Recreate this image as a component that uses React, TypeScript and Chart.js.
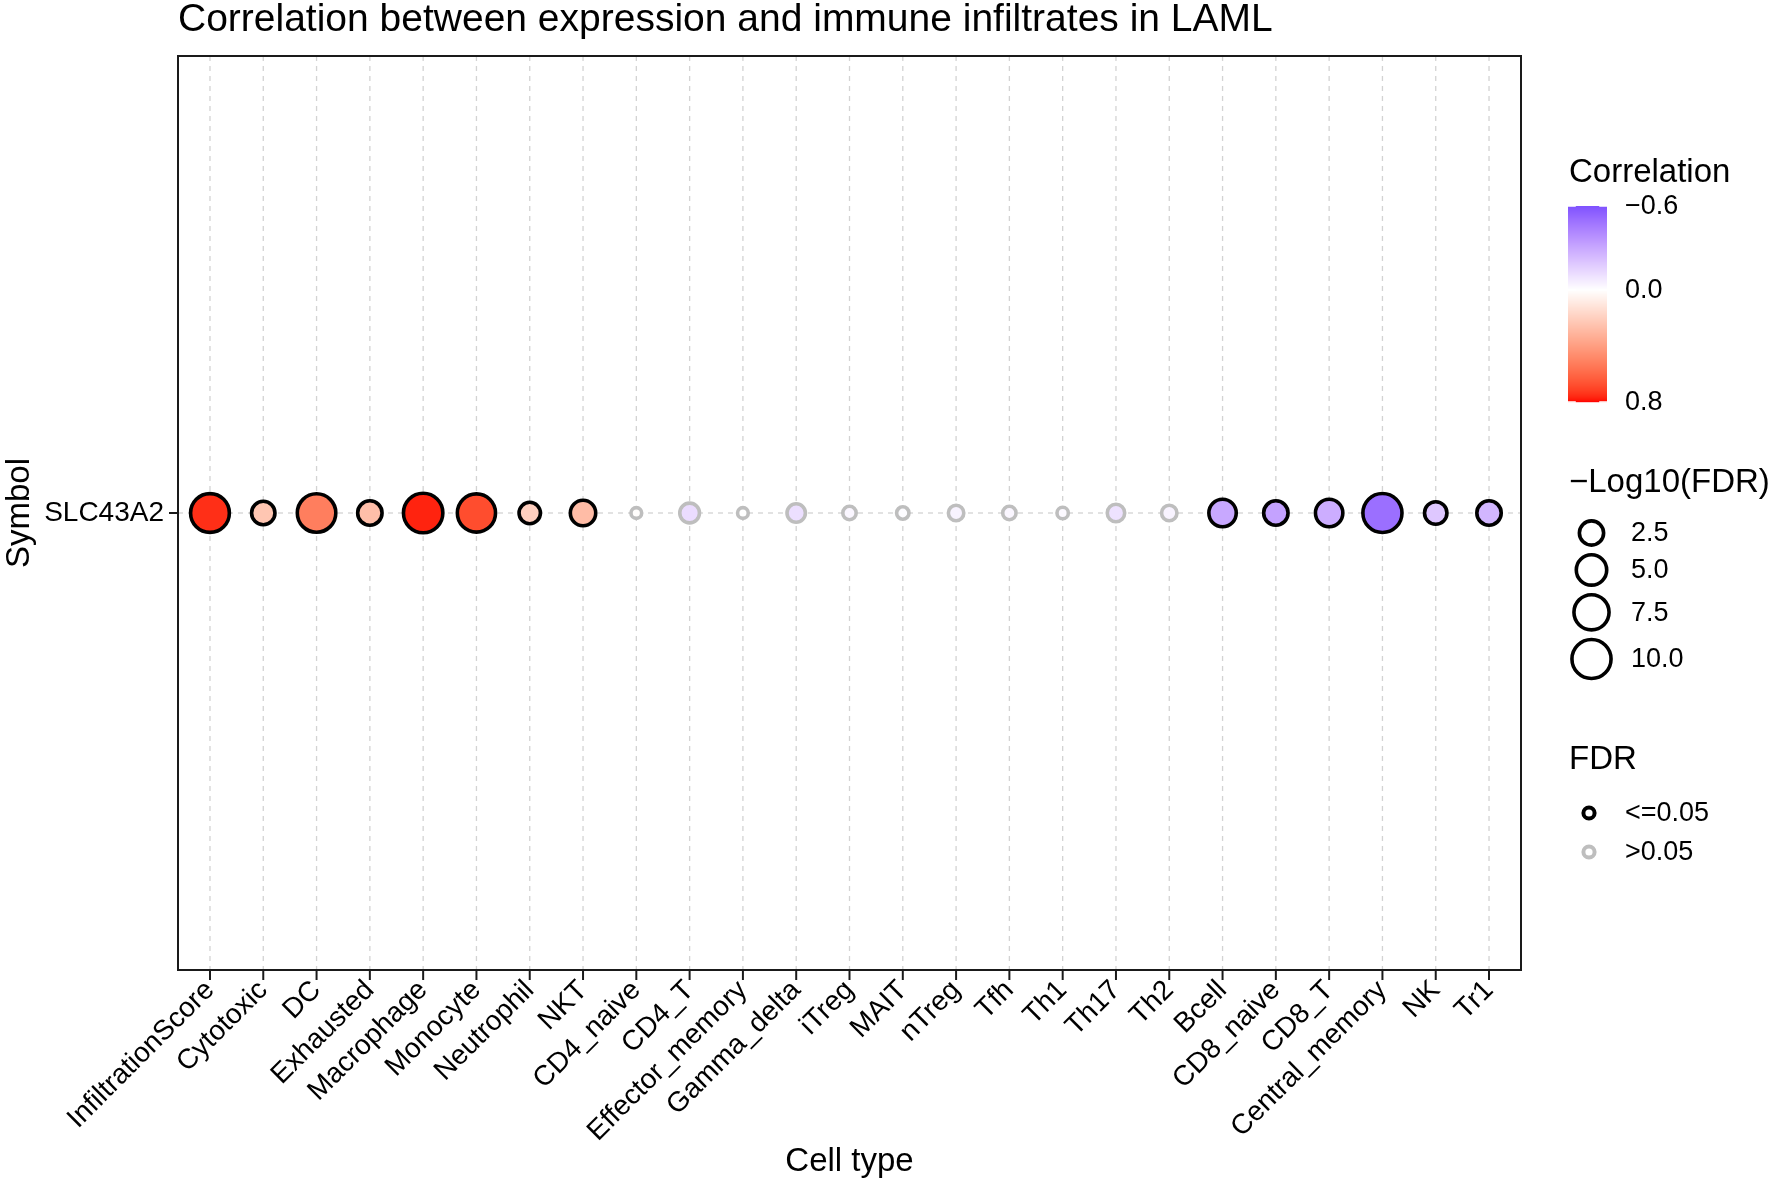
import React, { useEffect, useRef } from "react";
import { Chart, registerables } from "chart.js";

Chart.register(...registerables);

// ---------------- data ----------------
const cellTypes = [
  "InfiltrationScore", "Cytotoxic", "DC", "Exhausted", "Macrophage", "Monocyte",
  "Neutrophil", "NKT", "CD4_naive", "CD4_T", "Effector_memory", "Gamma_delta",
  "iTreg", "MAIT", "nTreg", "Tfh", "Th1", "Th17", "Th2", "Bcell", "CD8_naive",
  "CD8_T", "Central_memory", "NK", "Tr1",
];
const symbols = ["SLC43A2"];
const correlation = [
  0.75, 0.24, 0.52, 0.27, 0.77, 0.68, 0.2, 0.28, 0.01, -0.12, 0.0, -0.11,
  -0.03, -0.01, -0.04, -0.03, -0.02, -0.1, -0.04, -0.3, -0.32, -0.28, -0.5, -0.19, -0.25,
];
const negLog10FDR = [
  9.8, 2.22, 9.6, 2.55, 10.2, 9.4, 1.63, 2.9, 0.02, 1.2, 0.02, 0.92,
  0.18, 0.1, 0.41, 0.18, 0.045, 0.73, 0.41, 3.67, 2.55, 3.67, 10.0, 1.92, 2.55,
];
const colorLimits = [-0.6, 0.8];
const colorBreaks = [-0.6, 0.0, 0.8];
const colorBreakLabels = ["\u22120.6", "0.0", "0.8"];
const sizeBreaks = [2.5, 5.0, 7.5, 10.0];
const sizeBreakLabels = ["2.5", "5.0", "7.5", "10.0"];
const fdrLabels = ["<=0.05", ">0.05"];
const titleText = "Correlation between expression and immune infiltrates in LAML";
const xTitle = "Cell type";
const yTitle = "Symbol";
const colorTitle = "Correlation";
const sizeTitle = "\u2212Log10(FDR)";
const fdrTitle = "FDR";

// ---------------- helpers ----------------
const FONT = "'Liberation Sans', Arial, Helvetica, sans-serif";
const SIZE_MAX = 10.2;
const D_MIN = 13;
const D_SPAN = 30;
const BW = 3.6;

function outerDiameter(v: number) {
  return D_MIN + D_SPAN * Math.sqrt(Math.max(0, v) / SIZE_MAX);
}

function toLin(c: number) {
  c /= 255;
  return c <= 0.04045 ? c / 12.92 : Math.pow((c + 0.055) / 1.055, 2.4);
}
function fromLin(c: number) {
  c = Math.max(0, Math.min(1, c));
  return 255 * (c <= 0.0031308 ? 12.92 * c : 1.055 * Math.pow(c, 1 / 2.4) - 0.055);
}
const Xn = 0.95047, Yn = 1.0, Zn = 1.08883;
function rgbToLab(rgb: number[]) {
  const r = toLin(rgb[0]), g = toLin(rgb[1]), b = toLin(rgb[2]);
  const X = (0.4124564 * r + 0.3575761 * g + 0.1804375 * b) / Xn;
  const Y = (0.2126729 * r + 0.7151522 * g + 0.072175 * b) / Yn;
  const Z = (0.0193339 * r + 0.119192 * g + 0.9503041 * b) / Zn;
  const f = (t: number) => (t > 0.008856 ? Math.cbrt(t) : 7.787 * t + 16 / 116);
  const fx = f(X), fy = f(Y), fz = f(Z);
  return [116 * fy - 16, 500 * (fx - fy), 200 * (fy - fz)];
}
function labToRgb(lab: number[]) {
  const fy = (lab[0] + 16) / 116;
  const fx = fy + lab[1] / 500;
  const fz = fy - lab[2] / 200;
  const finv = (t: number) => (t * t * t > 0.008856 ? t * t * t : (t - 16 / 116) / 7.787);
  const X = finv(fx) * Xn, Y = finv(fy) * Yn, Z = finv(fz) * Zn;
  const r = 3.2404542 * X - 1.5371385 * Y - 0.4985314 * Z;
  const g = -0.969266 * X + 1.8760108 * Y + 0.041556 * Z;
  const b = 0.0556434 * X - 0.2040259 * Y + 1.0572252 * Z;
  return [fromLin(r), fromLin(g), fromLin(b)];
}
const LAB_LOW = rgbToLab([0, 0, 255]);
const LAB_MID = rgbToLab([255, 255, 255]);
const LAB_HIGH = rgbToLab([255, 0, 0]);
function colorFor(v: number) {
  const ext = Math.max(Math.abs(colorLimits[0]), Math.abs(colorLimits[1]));
  const t = Math.max(0, Math.min(1, v / ext / 2 + 0.5));
  let a: number[], b: number[], f: number;
  if (t < 0.5) { a = LAB_LOW; b = LAB_MID; f = t / 0.5; }
  else { a = LAB_MID; b = LAB_HIGH; f = (t - 0.5) / 0.5; }
  const lab = [0, 1, 2].map((k) => a[k] + (b[k] - a[k]) * f);
  const rgb = labToRgb(lab).map((c) => Math.round(c));
  return `rgb(${rgb[0]},${rgb[1]},${rgb[2]})`;
}
const SIG = -Math.log10(0.05);
const BLACK = "#000000";
const GREY = "#bebebe";

const decorPlugin = {
  id: "decor",
  beforeDatasetsDraw(chart: any) {
    const { ctx, chartArea: ca, scales } = chart;
    ctx.save();
    ctx.strokeStyle = "#d3d3d3";
    ctx.lineWidth = 1.3;
    ctx.setLineDash([5, 5]);
    scales.x.ticks.forEach((t: any) => {
      const x = scales.x.getPixelForValue(t.value);
      ctx.beginPath();
      ctx.moveTo(x, ca.top);
      ctx.lineTo(x, ca.bottom);
      ctx.stroke();
    });
    scales.y.ticks.forEach((t: any) => {
      const y = scales.y.getPixelForValue(t.value);
      ctx.beginPath();
      ctx.moveTo(ca.left, y);
      ctx.lineTo(ca.right, y);
      ctx.stroke();
    });
    ctx.restore();
  },
  afterDraw(chart: any) {
    const { ctx, chartArea: ca, scales } = chart;
    ctx.save();
    // panel border
    ctx.setLineDash([]);
    ctx.strokeStyle = "#1a1a1a";
    ctx.lineWidth = 2;
    ctx.strokeRect(ca.left, ca.top, ca.right - ca.left, ca.bottom - ca.top);
    // tick marks
    ctx.lineWidth = 2;
    scales.x.ticks.forEach((t: any) => {
      const x = scales.x.getPixelForValue(t.value);
      ctx.beginPath();
      ctx.moveTo(x, ca.bottom);
      ctx.lineTo(x, ca.bottom + 10);
      ctx.stroke();
    });
    scales.y.ticks.forEach((t: any) => {
      const y = scales.y.getPixelForValue(t.value);
      ctx.beginPath();
      ctx.moveTo(ca.left, y);
      ctx.lineTo(ca.left - 9, y);
      ctx.stroke();
    });

    ctx.fillStyle = "#000";
    ctx.textBaseline = "middle";
    // title
    ctx.textAlign = "left";
    ctx.font = `39px ${FONT}`;
    ctx.fillText(titleText, ca.left, 20);
    // axis titles
    ctx.font = `33px ${FONT}`;
    ctx.textAlign = "center";
    ctx.fillText(xTitle, (ca.left + ca.right) / 2, 1162);
    ctx.save();
    ctx.translate(20, (ca.top + ca.bottom) / 2);
    ctx.rotate(-Math.PI / 2);
    ctx.fillText(yTitle, 0, 0);
    ctx.restore();

    // ---- colour legend ----
    const lx = 1569;
    ctx.textAlign = "left";
    ctx.font = `33px ${FONT}`;
    ctx.fillText(colorTitle, lx, 173);
    const barL = 1568, barR = 1607, barT = 206, barB = 402;
    const span = colorLimits[1] - colorLimits[0];
    for (let y = barT; y < barB; y++) {
      const v = colorLimits[0] + ((y + 0.5 - barT) / (barB - barT)) * span;
      ctx.fillStyle = colorFor(v);
      ctx.fillRect(barL, y, barR - barL, 1.2);
    }
    ctx.strokeStyle = "#ffffff";
    ctx.lineWidth = 1.5;
    const tickLen = (barR - barL) / 5;
    colorBreaks.forEach((b) => {
      const y = barT + ((b - colorLimits[0]) / span) * (barB - barT);
      ctx.beginPath();
      ctx.moveTo(barL, y); ctx.lineTo(barL + tickLen, y);
      ctx.moveTo(barR, y); ctx.lineTo(barR - tickLen, y);
      ctx.stroke();
    });
    ctx.fillStyle = "#000";
    ctx.font = `27px ${FONT}`;
    colorBreaks.forEach((b, i) => {
      const y = barT + ((b - colorLimits[0]) / span) * (barB - barT);
      ctx.fillText(colorBreakLabels[i], 1625, y + 1);
    });

    // ---- size legend ----
    ctx.font = `33px ${FONT}`;
    ctx.fillText(sizeTitle, lx, 483);
    let cy = 533;
    sizeBreaks.forEach((s, i) => {
      const d = outerDiameter(s);
      if (i > 0) cy += (outerDiameter(sizeBreaks[i - 1]) + d) / 2 + 6;
      ctx.beginPath();
      ctx.arc(1591.5, cy, d / 2 - BW / 2, 0, Math.PI * 2);
      ctx.fillStyle = "#fff";
      ctx.fill();
      ctx.strokeStyle = BLACK;
      ctx.lineWidth = BW;
      ctx.stroke();
      ctx.fillStyle = "#000";
      ctx.font = `27px ${FONT}`;
      ctx.fillText(sizeBreakLabels[i], 1631, cy + 1);
    });

    // ---- FDR legend ----
    ctx.font = `33px ${FONT}`;
    ctx.fillText(fdrTitle, lx, 760);
    [BLACK, GREY].forEach((col, i) => {
      const y = 813 + i * 39;
      ctx.beginPath();
      ctx.arc(1589, y, 5.6, 0, Math.PI * 2);
      ctx.fillStyle = "#fff";
      ctx.fill();
      ctx.strokeStyle = col;
      ctx.lineWidth = 4;
      ctx.stroke();
      ctx.fillStyle = "#000";
      ctx.font = `27px ${FONT}`;
      ctx.fillText(fdrLabels[i], 1625, y + 1);
    });
    ctx.restore();
  },
};

export default function App() {
  const ref = useRef<HTMLCanvasElement | null>(null);
  useEffect(() => {
    if (!ref.current) return;
    const chart = new Chart(ref.current, {
      type: "scatter",
      data: {
        datasets: [
          {
            data: cellTypes.map((_, i) => ({ x: i, y: symbols.indexOf("SLC43A2") })),
            pointRadius: (c: any) => outerDiameter(negLog10FDR[c.dataIndex]) / 2 - BW / 2,
            pointHoverRadius: (c: any) => outerDiameter(negLog10FDR[c.dataIndex]) / 2 - BW / 2,
            pointBackgroundColor: (c: any) => colorFor(correlation[c.dataIndex]),
            pointBorderColor: (c: any) => (negLog10FDR[c.dataIndex] >= SIG ? BLACK : GREY),
            pointBorderWidth: BW,
            pointHoverBorderWidth: BW,
            showLine: false,
          } as any,
        ],
      },
      options: {
        responsive: false,
        animation: false,
        events: [],
        devicePixelRatio: 1,
        layout: { padding: { top: 56, right: 251, bottom: 0, left: 0 } },
        plugins: { legend: { display: false }, tooltip: { enabled: false } },
        scales: {
          x: {
            type: "linear",
            min: -0.6,
            max: cellTypes.length - 1 + 0.6,
            grid: { display: false, drawTicks: false },
            border: { display: false },
            afterBuildTicks: (s: any) => {
              s.ticks = cellTypes.map((_, i) => ({ value: i }));
            },
            afterFit: (s: any) => {
              s.height = 216;
            },
            ticks: {
              autoSkip: false,
              maxRotation: 45,
              minRotation: 45,
              padding: 4,
              color: "#000",
              font: { family: FONT, size: 28 },
              callback: (v: any) => cellTypes[Math.round(v)] ?? "",
            },
          },
          y: {
            type: "linear",
            min: -0.6,
            max: symbols.length - 1 + 0.6,
            grid: { display: false, drawTicks: false },
            border: { display: false },
            afterBuildTicks: (s: any) => {
              s.ticks = symbols.map((_, i) => ({ value: i }));
            },
            afterFit: (s: any) => {
              s.width = 178;
            },
            ticks: {
              padding: 14,
              color: "#000",
              font: { family: FONT, size: 28 },
              callback: (v: any) => symbols[Math.round(v)] ?? "",
            },
          },
        },
      } as any,
      plugins: [decorPlugin],
    });
    return () => chart.destroy();
  }, []);
  return (
    <div style={{ position: "absolute", left: 0, top: 0, width: 1772, height: 1186, background: "#fff" }}>
      <canvas ref={ref} width={1772} height={1186} style={{ width: 1772, height: 1186, display: "block" }} />
    </div>
  );
}
